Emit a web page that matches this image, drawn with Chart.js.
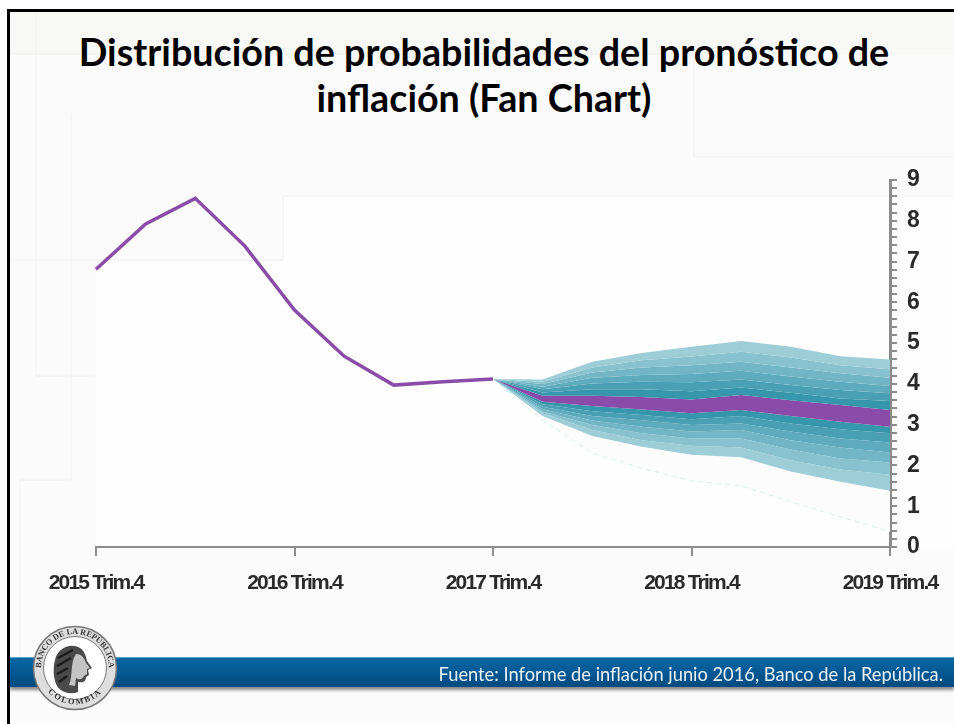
<!DOCTYPE html>
<html lang="es">
<head>
    <meta charset="UTF-8">
    <title>Distribución de probabilidades del pronóstico de inflación (Fan Chart)</title>
    <script src="https://cdn.jsdelivr.net/npm/chart.js"></script>
    <style>
        * {
            margin: 0;
            padding: 0;
            box-sizing: border-box;
        }

        body {
            width: 954px;
            height: 724px;
            background: white;
            overflow: hidden;
            position: relative;
            font-family: Lato, sans-serif;
        }

        .slide {
            position: absolute;
            left: 7px;
            top: 9px;
            width: 947px;
            height: 715px;
            border-left: 3px solid #000;
            border-top: 3px solid #000;
        }

        .backdrop {
            position: absolute;
            left: 0;
            top: 0;
        }

        h1 {
            position: absolute;
            left: 40px;
            top: 29px;
            width: 888px;
            text-align: center;
            font-size: 37.7px;
            line-height: 46px;
            font-weight: 700;
            color: #000;
        }

        #fanChart {
            position: absolute;
            left: 0;
            top: 0;
        }

        .band {
            position: absolute;
            left: 10px;
            top: 657px;
            width: 944px;
            height: 30px;
            background: linear-gradient(#0a66a5, #004a80);
            border-top: 1px solid #5da3c4;
            box-shadow: 0 3px 3px rgba(60, 60, 60, 0.6);
        }

        .source {
            position: absolute;
            right: 11px;
            top: 663px;
            color: #e8f1f6;
            font-size: 18.3px;
            line-height: 22px;
            white-space: nowrap;
        }

        .seal {
            position: absolute;
            left: 31px;
            top: 624px;
        }
    </style>
</head>
<body>
    <!-- faint slide background -->
    <svg class="backdrop" width="954" height="724">
        <rect x="10" y="12" width="944" height="712" fill="#fbfbfb"/>
        <rect x="10" y="12" width="944" height="42" fill="#f8f9f6"/>
        <rect x="283" y="196" width="671" height="352" fill="#fefefe"/>
        <rect x="96" y="261" width="188" height="287" fill="#fefefe"/>
        <g stroke="#f0f0f0" stroke-width="1" fill="none">
            <path d="M36 12V376H95"/>
            <path d="M71 113V480H20V657"/>
            <path d="M10 260H283V196H954"/>
            <path d="M694 55V157H954"/>
            <path d="M10 54H694"/>
        </g>
    </svg>

    <div class="slide"></div>

    <h1>Distribución de probabilidades del pronóstico de inflación (Fan Chart)</h1>

    <canvas id="fanChart" width="954" height="724"></canvas>

    <div class="band"></div>
    <div class="source">Fuente: Informe de inflación junio 2016, Banco de la República.</div>

    <!-- bank seal -->
    <svg class="seal" width="88" height="88" viewBox="0 0 88 88">
        <defs>
            <path id="sealTop" d="M10 44A34 34 0 1 1 78 44"/>
            <path id="sealBottom" d="M10 56A36 36 0 0 0 78 56"/>
        </defs>
        <circle cx="44" cy="44" r="41.5" fill="#dedede" stroke="#777" stroke-width="1.5"/>
        <circle cx="44" cy="44" r="31.5" fill="#fff" stroke="#777" stroke-width="1"/>
        <text font-family="'Liberation Serif', serif" font-weight="700" font-size="8.2" fill="#333">
            <textPath href="#sealTop" startOffset="50%" text-anchor="middle">BANCO DE LA REPÚBLICA</textPath>
        </text>
        <text font-family="'Liberation Serif', serif" font-weight="700" font-size="8.5" fill="#333" letter-spacing="1.6">
            <textPath href="#sealBottom" startOffset="50%" text-anchor="middle">COLOMBIA</textPath>
        </text>
        <path d="M24 36C26 24 40 18 49 24C54 27 55 33 56 37L61 44L57 46L58 51L55 53C55 58 51 59 47 58L47 68C38 71 30 68 26 62C22 54 22 44 24 36Z" fill="#4a4a4a"/>
        <path d="M45 30C51 30 54 35 55 39L59 44L56 45L56 50L53 52C51 56 48 56 45 54L44 62L38 61C42 52 39 38 45 30Z" fill="#c4c4c4"/>
        <path d="M27 34L42 26M26 42L40 34M26 50L37 44M28 58L36 52" stroke="#1c1c1c" stroke-width="2.5" fill="none"/>
    </svg>

    <script>
        // quarters from 2015 Trim.4 to 2019 Trim.4
        const quarters = ['2015 Trim.4', '2016 Trim.1', '2016 Trim.2', '2016 Trim.3', '2016 Trim.4', '2017 Trim.1', '2017 Trim.2', '2017 Trim.3', '2017 Trim.4', '2018 Trim.1', '2018 Trim.2', '2018 Trim.3', '2018 Trim.4', '2019 Trim.1', '2019 Trim.2', '2019 Trim.3', '2019 Trim.4'];
        const yTicksShown = [0, 1, 2, 3, 4, 5, 6, 7, 8, 9];

        // observed part of the line
        const history = [6.81, 7.92, 8.55, 7.38, 5.81, 4.68, 3.97, 4.05, 4.12];

        // fan edges, outermost to innermost, starting at 2017 Trim.4
        const upper6 = [4.12, 4.11, 4.54, 4.76, 4.91, 5.05, 4.91, 4.68, 4.60];
        const upper5 = [4.12, 4.05, 4.40, 4.58, 4.67, 4.79, 4.65, 4.46, 4.36];
        const upper4 = [4.12, 4.00, 4.28, 4.40, 4.46, 4.54, 4.40, 4.26, 4.15];
        const upper3 = [4.12, 3.93, 4.15, 4.22, 4.24, 4.32, 4.18, 4.05, 3.95];
        const upper2 = [4.12, 3.87, 4.01, 4.05, 4.04, 4.11, 3.97, 3.85, 3.77];
        const upper1 = [4.12, 3.79, 3.87, 3.87, 3.82, 3.91, 3.78, 3.64, 3.58];
        const centerTop = [4.12, 3.71, 3.71, 3.68, 3.62, 3.73, 3.60, 3.48, 3.36];
        const centerBottom = [4.12, 3.56, 3.46, 3.37, 3.28, 3.36, 3.21, 3.07, 2.95];
        const lower1 = [4.12, 3.50, 3.33, 3.24, 3.13, 3.21, 3.03, 2.89, 2.79];
        const lower2 = [4.12, 3.44, 3.21, 3.11, 2.99, 3.03, 2.83, 2.66, 2.56];
        const lower3 = [4.12, 3.38, 3.10, 2.95, 2.83, 2.87, 2.62, 2.44, 2.32];
        const lower4 = [4.12, 3.32, 2.99, 2.79, 2.66, 2.66, 2.39, 2.17, 2.07];
        const lower5 = [4.12, 3.28, 2.87, 2.62, 2.48, 2.44, 2.13, 1.90, 1.77];
        const lower6 = [4.12, 3.21, 2.72, 2.46, 2.26, 2.20, 1.85, 1.60, 1.38];
        const tail = [4.12, 3.11, 2.30, 1.93, 1.62, 1.50, 1.11, 0.74, 0.38];

        const bandColors = ['#9dcdd7', '#88c2ce', '#72b6c6', '#5dabbd', '#49a0b4', '#3596ac'];
        const purple = '#8a4ca8';

        // the fan only starts at the 9th quarter
        const forecast = values => Array(8).fill(null).concat(values);

        // one area between this edge and the previous dataset
        function edge(values, color) {
            return {
                data: forecast(values),
                borderWidth: 0,
                pointRadius: 0,
                tension: 0,
                fill: color ? '-1' : false,
                backgroundColor: color || 'transparent'
            };
        }

        // tick labels in the picture are squeezed, no narrow font is installed
        const tightLabels = {
            id: 'tightLabels',
            beforeDraw: chart => { chart.ctx.letterSpacing = '-1.8px'; }
        };

        new Chart(document.getElementById('fanChart'), {
            type: 'line',
            plugins: [tightLabels],
            data: {
                labels: quarters,
                datasets: [
                    edge(upper6),
                    edge(upper5, bandColors[0]),
                    edge(upper4, bandColors[1]),
                    edge(upper3, bandColors[2]),
                    edge(upper2, bandColors[3]),
                    edge(upper1, bandColors[4]),
                    edge(centerTop, bandColors[5]),
                    edge(centerBottom, purple),
                    edge(lower1, bandColors[5]),
                    edge(lower2, bandColors[4]),
                    edge(lower3, bandColors[3]),
                    edge(lower4, bandColors[2]),
                    edge(lower5, bandColors[1]),
                    edge(lower6, bandColors[0]),
                    {
                        data: forecast(tail),
                        borderColor: '#dcebee',
                        borderWidth: 1,
                        borderDash: [5, 4],
                        pointRadius: 0,
                        tension: 0,
                        fill: '-1',
                        backgroundColor: '#fcfcfc'
                    },
                    {
                        data: history,
                        borderColor: purple,
                        borderWidth: 3.5,
                        pointRadius: 0,
                        tension: 0,
                        fill: false
                    }
                ]
            },
            options: {
                responsive: false,
                animation: false,
                layout: {
                    padding: { left: 96, top: 180, right: 0, bottom: 0 }
                },
                plugins: {
                    legend: { display: false },
                    tooltip: { enabled: false }
                },
                scales: {
                    x: {
                        offset: false,
                        grid: {
                            drawOnChartArea: false,
                            color: '#8c8c8c',
                            lineWidth: 2,
                            tickLength: 9
                        },
                        border: { color: '#8c8c8c', width: 2 },
                        afterFit: axis => {
                            axis.height = 177;
                            axis.paddingLeft = 0;
                            axis.paddingRight = 0;
                        },
                        afterBuildTicks: axis => {
                            axis.ticks = axis.ticks.filter(t => t.value % 4 === 0);
                        },
                        ticks: {
                            autoSkip: false,
                            maxRotation: 0,
                            padding: 15,
                            color: '#2a2a2a',
                            font: { family: "'Liberation Sans'", size: 21, weight: 'bold' },
                            callback: function (value) { return this.getLabelForValue(value); }
                        }
                    },
                    y: {
                        position: 'right',
                        min: 0,
                        max: 9,
                        grid: {
                            drawOnChartArea: false,
                            color: '#8c8c8c',
                            lineWidth: 2,
                            tickLength: 7
                        },
                        border: { color: '#8c8c8c', width: 3 },
                        afterFit: axis => { axis.width = 64; },
                        ticks: {
                            stepSize: 0.2,
                            autoSkip: false,
                            padding: 10,
                            color: '#2a2a2a',
                            font: { family: "'Liberation Sans'", size: 23, weight: 'bold' },
                            callback: value => yTicksShown.includes(Math.round(value * 100) / 100) ? value : ''
                        }
                    }
                }
            }
        });
    </script>
</body>
</html>
